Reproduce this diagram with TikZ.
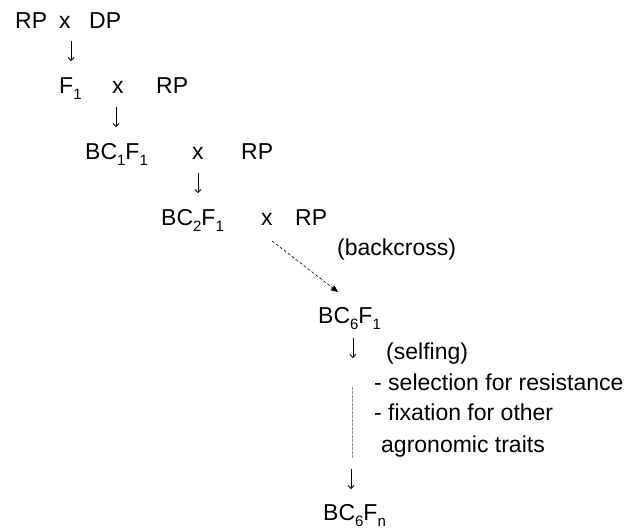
\documentclass[tikz,border=0pt]{standalone}
\usepackage{fontspec}
\setmainfont{Liberation Sans}
\usetikzlibrary{arrows.meta}
\newcommand\sbx[1]{\raisebox{-6pt}{\fontsize{15}{15}\selectfont #1}}
\begin{document}
\begin{tikzpicture}[x=1pt,y=-1pt,
  txt/.style={anchor=base west,inner sep=0pt,font=\fontsize{23}{23}\selectfont},
  down/.style={line width=0.8pt,-{Straight Barb[length=3pt,width=6pt]}},
  dashlink/.style={densely dashed,line width=0.6pt,-{Triangle[length=7pt,width=6pt]}},
  greydash/.style={dash pattern=on 2.5pt off 1.5pt,line width=0.8pt,draw=black!45}]
\useasboundingbox (0,0) rectangle (635,531);
% row 1
\node[txt] (rp1) at (15,28) {RP};
\node[txt] (x1) at (59,28) {x};
\node[txt] (dp1) at (89,28) {DP};
% row 2
\node[txt] (f1) at (59,93) {F\sbx{1}};
\node[txt] (x2) at (112,93) {x};
\node[txt] (rp2) at (156,93) {RP};
% row 3
\node[txt] (bc1) at (85,159) {BC\sbx{1}F\sbx{1}};
\node[txt] (x3) at (192,159) {x};
\node[txt] (rp3) at (241,159) {RP};
% row 4
\node[txt] (bc2) at (161,225) {BC\sbx{2}F\sbx{1}};
\node[txt] (x4) at (261,225) {x};
\node[txt] (rp4) at (295,225) {RP};
\node[txt] (bk) at (337,255) {(backcross)};
% BC6F1
\node[txt] (bc6) at (318,323) {BC\sbx{6}F\sbx{1}};
\node[txt] (self) at (386,359) {(selfing)};
\node[txt] (sel) at (374,390) {- selection for resistance};
\node[txt] (fix) at (374,420) {- fixation for other};
\node[txt] (agr) at (381,452) {agronomic traits};
\node[txt] (bcn) at (323,520) {BC\sbx{6}F\sbx{n}};
% down arrows
\coordinate (a1s) at (71,41);  \coordinate (a1e) at (71,61);
\coordinate (a2s) at (116,107); \coordinate (a2e) at (116,127);
\coordinate (a3s) at (198,173); \coordinate (a3e) at (198,193);
\coordinate (a4s) at (353,338); \coordinate (a4e) at (353,358);
\coordinate (a5s) at (351,469); \coordinate (a5e) at (351,489);
\foreach \i in {1,...,5} {\draw[down] (a\i s) -- (a\i e);}
% connectors
\coordinate (ds) at (272,241);
\coordinate (de) at (338,292);
\draw[dashlink] (ds) -- (de);
\coordinate (gs) at (352,387);
\coordinate (ge) at (352,458);
\draw[greydash] (gs) -- (ge);
\end{tikzpicture}
\end{document}
